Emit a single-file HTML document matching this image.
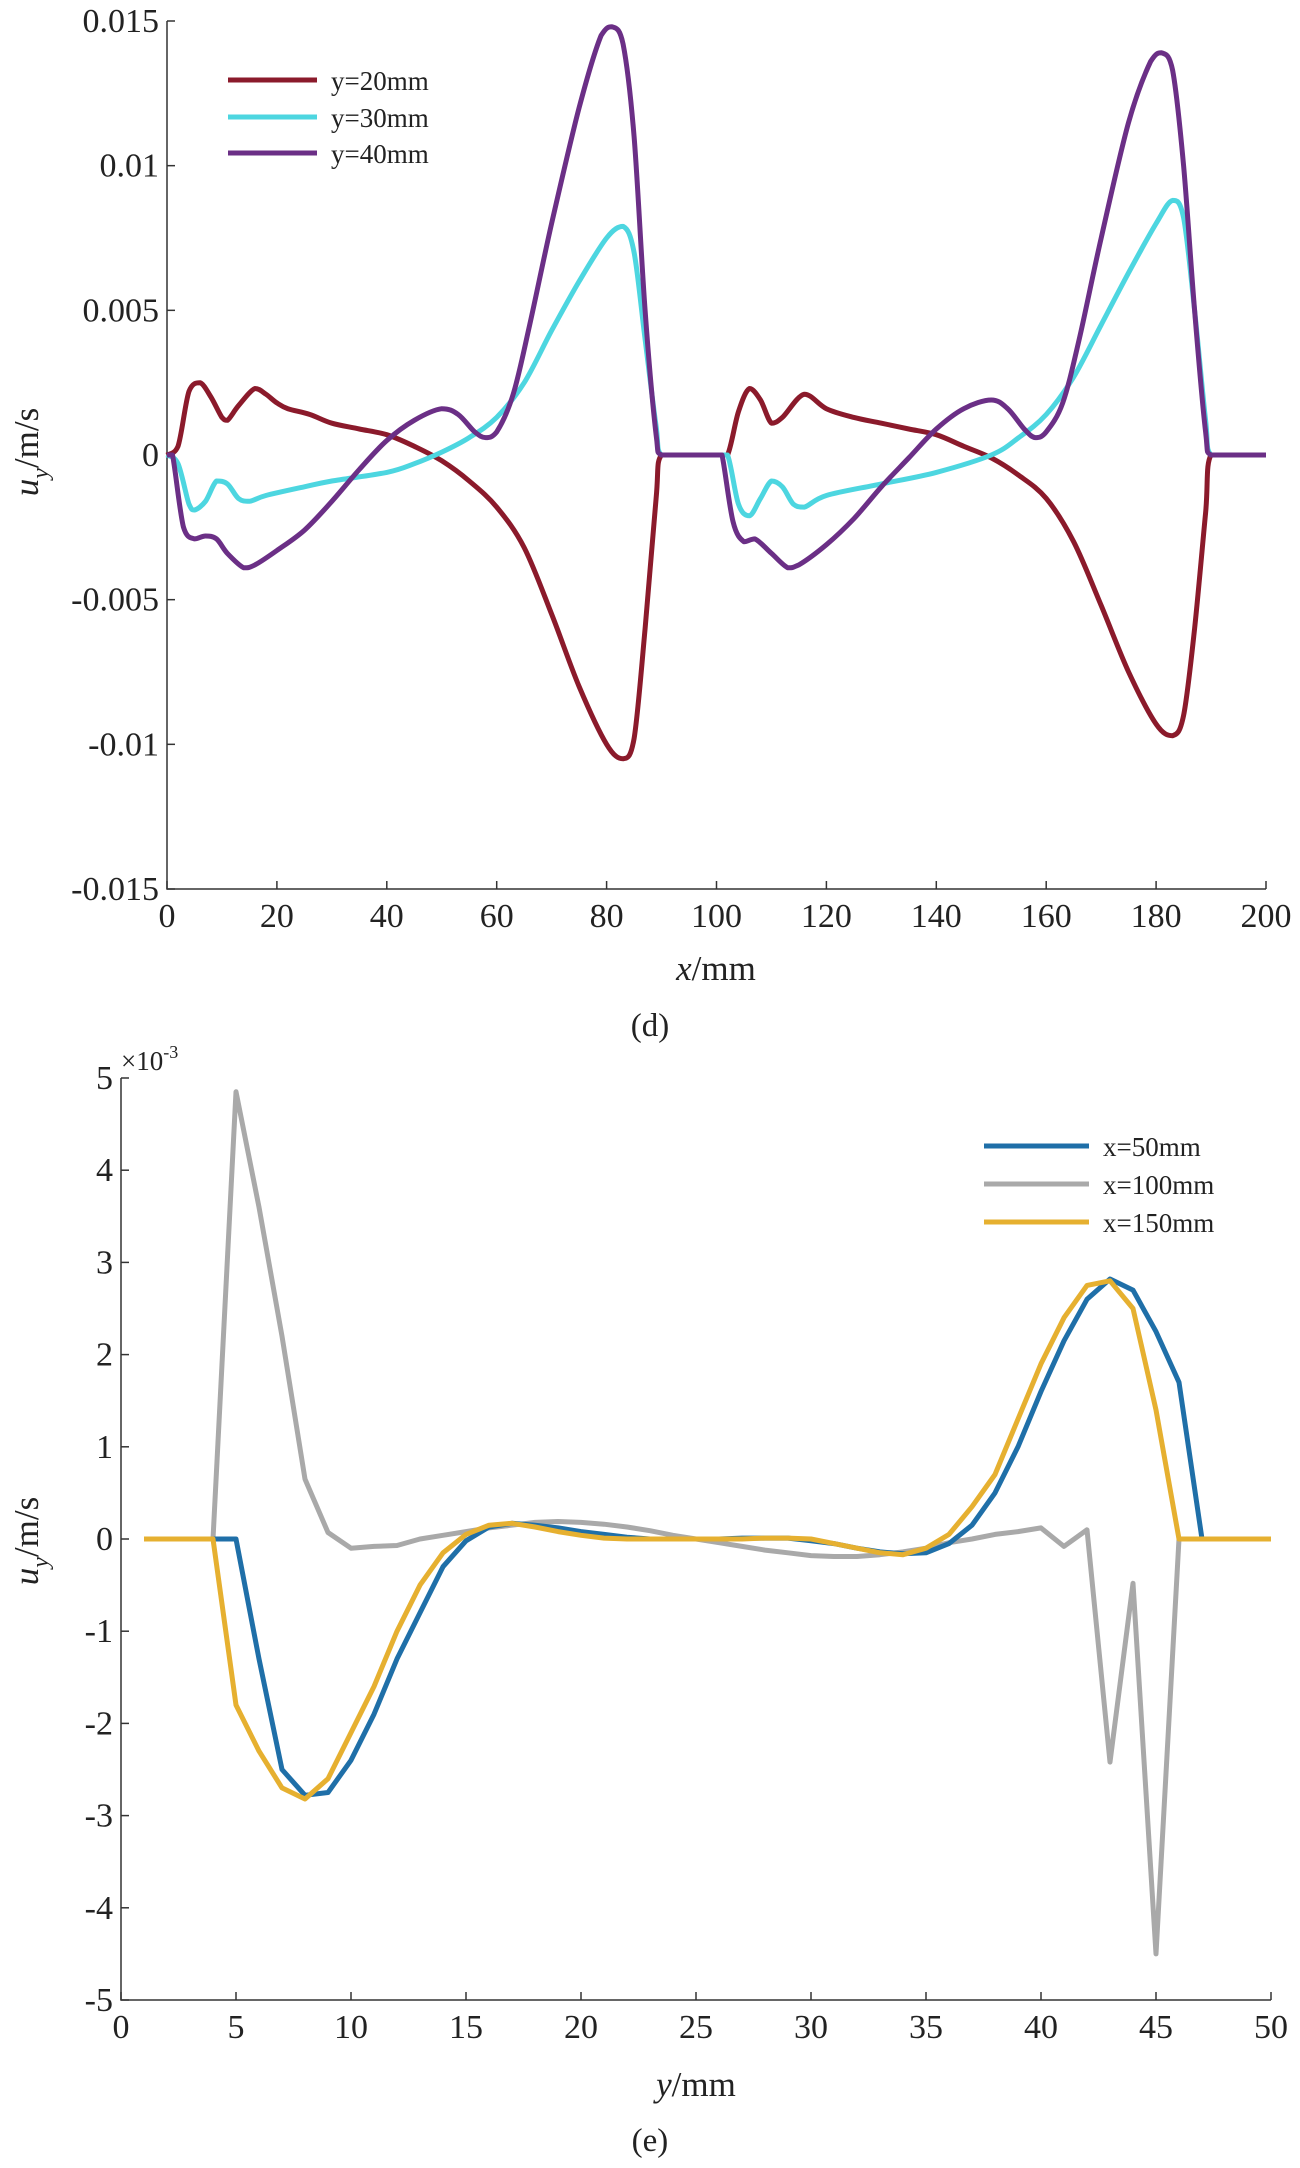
<!DOCTYPE html>
<html><head><meta charset="utf-8"><style>
body{margin:0;background:#fff}
svg{display:block}
text{font-family:"Liberation Serif",serif;fill:#222}
</style></head><body>
<svg id="svg" width="1300" height="2168" viewBox="0 0 1300 2168"></svg>
<script>
// ---- chart (d) data ----
const dX20=[0,2,4,6,8,10,11,13,16,18,20,22,26,30,35,40,45,50,55,60,65,70,75,80,83,85,87,89,90,100,102,104,106,108,110,112,116,120,125,130,135,140,145,150,155,160,165,170,175,180,183,185,187,189,190,200];
const dY20=[0,0.0003,0.0022,0.0025,0.002,0.0013,0.0012,0.0017,0.0023,0.0021,0.0018,0.0016,0.0014,0.0011,0.0009,0.0007,0.0003,-0.0002,-0.0009,-0.0018,-0.0032,-0.0055,-0.008,-0.0100,-0.0105,-0.0098,-0.006,-0.0015,0,0,0,0.0015,0.0023,0.0019,0.0011,0.0013,0.0021,0.0016,0.0013,0.0011,0.0009,0.0007,0.0003,-0.0001,-0.0007,-0.0015,-0.003,-0.0052,-0.0075,-0.0093,-0.0097,-0.009,-0.006,-0.002,0,0];
const dX30=[0,2,4,5,7,9,11,13,15,18,25,30,40,45,50,55,60,65,70,75,80,83,85,87,89,90,100,102,104,106,108,110,112,114,116,120,130,140,150,155,160,165,170,175,180,183,185,187,189,190,200];
const dY30=[0,-0.0003,-0.0017,-0.0019,-0.0016,-0.0009,-0.0010,-0.0015,-0.0016,-0.0014,-0.0011,-0.0009,-0.0006,-0.0003,0.0001,0.0006,0.0013,0.0025,0.0043,0.006,0.0075,0.0079,0.0070,0.004,0.001,0,0,0,-0.0017,-0.0021,-0.0015,-0.0009,-0.0011,-0.0017,-0.0018,-0.0014,-0.001,-0.0006,0,0.0006,0.0014,0.0027,0.0045,0.0063,0.008,0.0088,0.0082,0.005,0.0012,0,0];
const dX40=[0,1,3,5,7,9,11,14,16,20,25,30,35,40,45,50,53,56,58,60,63,66,70,75,79,81,83,85,87,89,90,100,101,103,105,107,110,113,115,120,125,130,135,140,145,150,153,156,158,160,163,166,170,175,179,181,183,185,187,189,190,200];
const dY40=[0,0,-0.0025,-0.0029,-0.0028,-0.0029,-0.0034,-0.0039,-0.0038,-0.0033,-0.0026,-0.0016,-0.0005,0.0005,0.0012,0.0016,0.0014,0.0008,0.0006,0.0008,0.0021,0.0045,0.008,0.012,0.0145,0.0148,0.0142,0.011,0.005,0.0007,0,0,0,-0.0023,-0.003,-0.0029,-0.0034,-0.0039,-0.0038,-0.0031,-0.0022,-0.0011,-0.0001,0.0009,0.0016,0.0019,0.0016,0.0009,0.0006,0.0008,0.0018,0.004,0.0075,0.0115,0.0136,0.0139,0.0133,0.010,0.005,0.0008,0,0];
const dXTicks=[0,20,40,60,80,100,120,140,160,180,200];
const dYTicks=[0.015,0.01,0.005,0,-0.005,-0.01,-0.015];
const dYTickLabels=["0.015","0.01","0.005","0","-0.005","-0.01","-0.015"];
// ---- chart (e) data ----
const eX=[1,2,3,4,5,6,7,8,9,10,11,12,13,14,15,16,17,18,19,20,21,22,23,24,25,26,27,28,29,30,31,32,33,34,35,36,37,38,39,40,41,42,43,44,45,46,47,48,49,50];
const e50=[0,0,0,0,0,-1.3,-2.5,-2.78,-2.75,-2.4,-1.9,-1.3,-0.8,-0.3,-0.02,0.13,0.17,0.15,0.12,0.08,0.05,0.02,0,0,0,0,0.01,0.01,0.01,-0.02,-0.05,-0.1,-0.14,-0.16,-0.15,-0.05,0.15,0.5,1.0,1.6,2.15,2.6,2.82,2.7,2.25,1.7,0,0,0,0];
const e100=[0,0,0,0,4.85,3.6,2.2,0.65,0.07,-0.1,-0.08,-0.07,0,0.04,0.08,0.12,0.15,0.18,0.19,0.18,0.16,0.13,0.09,0.04,0,-0.04,-0.08,-0.12,-0.15,-0.18,-0.19,-0.19,-0.17,-0.14,-0.1,-0.04,0,0.05,0.08,0.12,-0.08,0.1,-2.42,-0.48,-4.5,0,0,0,0,0];
const e150=[0,0,0,0,-1.8,-2.3,-2.7,-2.82,-2.6,-2.1,-1.6,-1.0,-0.5,-0.15,0.05,0.15,0.17,0.13,0.08,0.04,0.01,0,0,0,0,0,0,0.01,0.01,0,-0.05,-0.1,-0.15,-0.17,-0.1,0.05,0.35,0.7,1.3,1.9,2.4,2.75,2.8,2.5,1.4,0,0,0,0,0];
const eXTicks=[0,5,10,15,20,25,30,35,40,45,50];
const eYTicks=[5,4,3,2,1,0,-1,-2,-3,-4,-5];

const NS="http://www.w3.org/2000/svg";
const svg=document.getElementById('svg');
function mk(tag,attrs,parent){const e=document.createElementNS(NS,tag);for(const k in attrs)e.setAttribute(k,attrs[k]);(parent||svg).appendChild(e);return e;}
function txt(x,y,s,anchor,size,parent){const t=mk('text',{x:x,y:y,'text-anchor':anchor||'middle','font-size':size||34},parent);t.textContent=s;return t;}
function clamp(v,a,b){const lo=Math.min(a,b),hi=Math.max(a,b);return Math.max(lo,Math.min(hi,v));}
function smoothPath(P){
  let d='M'+P[0][0].toFixed(1)+','+P[0][1].toFixed(1);
  for(let i=0;i<P.length-1;i++){
    const p0=P[i-1]||P[i],p1=P[i],p2=P[i+1],p3=P[i+2]||p2;
    const c1=[p1[0]+(p2[0]-p0[0])/6,clamp(p1[1]+(p2[1]-p0[1])/6,p1[1],p2[1])];
    const c2=[p2[0]-(p3[0]-p1[0])/6,clamp(p2[1]-(p3[1]-p1[1])/6,p1[1],p2[1])];
    c1[0]=clamp(c1[0],p1[0],p2[0]);c2[0]=clamp(c2[0],p1[0],p2[0]);
    d+=`C${c1[0].toFixed(1)},${c1[1].toFixed(1)} ${c2[0].toFixed(1)},${c2[1].toFixed(1)} ${p2[0].toFixed(1)},${p2[1].toFixed(1)}`;
  }
  return d;
}

function chart(o){
  const g=mk('g',{});
  
  
  const sx=v=>o.x0+(v-o.xmin)/(o.xmax-o.xmin)*(o.x1-o.x0);
  const sy=v=>o.y1-(v-o.ymin)/(o.ymax-o.ymin)*(o.y1-o.y0);
  const ax=mk('path',{d:`M${o.x0},${o.y0}V${o.y1}H${o.x1}`,stroke:'#333','stroke-width':1.5,fill:'none'},g);
  
  
  o.xticks.forEach(v=>{
    mk('line',{x1:sx(v),x2:sx(v),y1:o.y1,y2:o.y1-8,stroke:'#333','stroke-width':1.5},g);
    const t=txt(sx(v),o.y1+38,String(v),'middle',34,g);
    
    
  });
  o.yticks.forEach((v,i)=>{
    mk('line',{x1:o.x0,x2:o.x0+8,y1:sy(v),y2:sy(v),stroke:'#333','stroke-width':1.5},g);
    const t=txt(o.x0-8,sy(v)+11,o.ylabels?o.ylabels[i]:String(v),'end',34,g);
    
    
  });
  o.series.forEach(s=>{
    const P=s.x.map((v,i)=>[sx(v),sy(s.y[i])]);
    const d=o.smooth?smoothPath(P):P.map((p,i)=>(i?'L':'M')+p[0].toFixed(1)+','+p[1].toFixed(1)).join('');
    const p=mk('path',{d:d,stroke:s.color,'stroke-width':5,fill:'none','stroke-linejoin':'round'},g);
    
    
  });
  return g;
}

chart({name:'chart-d',smooth:true,x0:167,x1:1266,y0:21,y1:889,xmin:0,xmax:200,ymin:-0.015,ymax:0.015,
  xticks:dXTicks,yticks:dYTicks,ylabels:dYTickLabels,
  series:[{name:'line-y20',x:dX20,y:dY20,color:'#8b1a2b'},{name:'line-y30',x:dX30,y:dY30,color:'#4dd6e0'},{name:'line-y40',x:dX40,y:dY40,color:'#6b2f86'}]});
chart({name:'chart-e',smooth:false,x0:121,x1:1271,y0:1078,y1:2000,xmin:0,xmax:50,ymin:-5,ymax:5,
  xticks:eXTicks,yticks:eYTicks,
  series:[{name:'line-x100',x:eX,y:e100,color:'#a9a9a9'},{name:'line-x50',x:eX,y:e50,color:'#1f6fa8'},{name:'line-x150',x:eX,y:e150,color:'#e6b030'}]});
</script>
<svg style="position:absolute;left:0;top:0" width="1300" height="2168">
<g>
<line x1="228" x2="317" y1="80" y2="80" stroke="#8b1a2b" stroke-width="5"/><text x="331" y="90" font-size="27">y=20mm</text>
<line x1="228" x2="317" y1="117" y2="117" stroke="#4dd6e0" stroke-width="5"/><text x="331" y="127" font-size="27">y=30mm</text>
<line x1="228" x2="317" y1="153" y2="153" stroke="#6b2f86" stroke-width="5"/><text x="331" y="163" font-size="27">y=40mm</text>
</g>
<g>
<line x1="984" x2="1089" y1="1146" y2="1146" stroke="#1f6fa8" stroke-width="5"/><text x="1103" y="1156" font-size="27">x=50mm</text>
<line x1="984" x2="1089" y1="1184" y2="1184" stroke="#a9a9a9" stroke-width="5"/><text x="1103" y="1194" font-size="27">x=100mm</text>
<line x1="984" x2="1089" y1="1222" y2="1222" stroke="#e6b030" stroke-width="5"/><text x="1103" y="1232" font-size="27">x=150mm</text>
</g>
<text x="716" y="980" text-anchor="middle" font-size="35"><tspan font-style="italic">x</tspan>/mm</text>
<text x="650" y="1036" text-anchor="middle" font-size="33">(d)</text>
<text transform="translate(38,452) rotate(-90)" text-anchor="middle" font-size="35"><tspan font-style="italic">u</tspan><tspan font-style="italic" font-size="24" dy="10">y</tspan><tspan dy="-10">/m/s</tspan></text>
<text x="121" y="1070" font-size="27">×10<tspan font-size="18" dy="-12">-3</tspan></text>
<text x="696" y="2096" text-anchor="middle" font-size="35"><tspan font-style="italic">y</tspan>/mm</text>
<text x="650" y="2151" text-anchor="middle" font-size="33">(e)</text>
<text transform="translate(38,1541) rotate(-90)" text-anchor="middle" font-size="35"><tspan font-style="italic">u</tspan><tspan font-style="italic" font-size="24" dy="10">y</tspan><tspan dy="-10">/m/s</tspan></text>
</svg>
</body></html>
